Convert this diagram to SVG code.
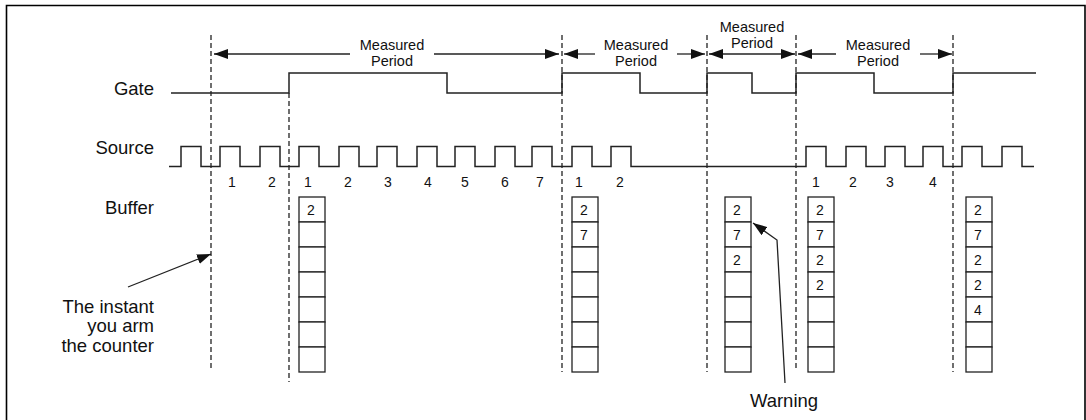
<svg xmlns="http://www.w3.org/2000/svg" width="1086" height="420" viewBox="0 0 1086 420">
<defs>
<style>
.lbl{font-family:"Liberation Sans",Arial,sans-serif;font-size:18.5px;fill:#111}
.mp{font-family:"Liberation Sans",Arial,sans-serif;font-size:14.5px;fill:#111;text-anchor:middle}
.num{font-family:"Liberation Sans",Arial,sans-serif;font-size:14px;fill:#111;text-anchor:middle}
.sig{fill:none;stroke:#222;stroke-width:1.5}
.dash{fill:none;stroke:#222;stroke-width:1.3;stroke-dasharray:5,3}
.arr{fill:none;stroke:#222;stroke-width:1.3}
.cell{fill:#fff;stroke:#222;stroke-width:1.3}
</style>
<marker id="ah" viewBox="0 0 14 10" refX="14" refY="5" markerWidth="14" markerHeight="10" markerUnits="userSpaceOnUse" orient="auto-start-reverse">
<path d="M0,0 L14,5 L0,10 z" fill="#111"/>
</marker>
</defs>
<rect width="1086" height="420" fill="#fff"/>
<path d="M6.5,420 V5.5 H1085 V420" fill="none" stroke="#000" stroke-width="1.6"/>

<g id="labels">
<text class="lbl" x="154" y="95" text-anchor="end">Gate</text>
<text class="lbl" x="154" y="154" text-anchor="end">Source</text>
<text class="lbl" x="154" y="214" text-anchor="end">Buffer</text>
<text class="lbl" x="154" y="313" text-anchor="end">The instant</text>
<text class="lbl" x="154" y="332" text-anchor="end">you arm</text>
<text class="lbl" x="154" y="352" text-anchor="end">the counter</text>
<text class="lbl" x="784" y="407" text-anchor="middle">Warning</text>
</g>

<g id="dashed-lines">
<line class="dash" x1="211" y1="35" x2="211" y2="370"/>
<line class="dash" x1="289" y1="93" x2="289" y2="382"/>
<line class="dash" x1="562" y1="35" x2="562" y2="372"/>
<line class="dash" x1="707" y1="35" x2="707" y2="372"/>
<line class="dash" x1="796" y1="35" x2="796" y2="370"/>
<line class="dash" x1="953" y1="35" x2="953" y2="372"/>
</g>

<g id="gate">
<path class="sig" d="M171,93 H289 V73 H447 V93 H562 V73 H640 V93 H707 V73 H752 V93 H796 V73 H874 V93 H953 V73 H1036"/>
</g>

<g id="source">
<path class="sig" d="M169,166.5 H181 V146.5 H201 V166.5 H220 V146.5 H240 V166.5 H260 V146.5 H280 V166.5 H299 V146.5 H319 V166.5 H339 V146.5 H359 V166.5 H377 V146.5 H397 V166.5 H417 V146.5 H437 V166.5 H455 V146.5 H475 V166.5 H495 V146.5 H515 V166.5 H532 V146.5 H552 V166.5 H572 V146.5 H592 V166.5 H611 V146.5 H631 V166.5 H806 V146.5 H826 V166.5 H846 V146.5 H866 V166.5 H885 V146.5 H905 V166.5 H923 V146.5 H943 V166.5 H962 V146.5 H982 V166.5 H1002 V146.5 H1022 V166.5 H1034"/>
</g>

<g id="source-counts">
<text class="num" x="232" y="187">1</text>
<text class="num" x="272" y="187">2</text>
<text class="num" x="308" y="187">1</text>
<text class="num" x="348" y="187">2</text>
<text class="num" x="388" y="187">3</text>
<text class="num" x="428" y="187">4</text>
<text class="num" x="465" y="187">5</text>
<text class="num" x="505" y="187">6</text>
<text class="num" x="540" y="187">7</text>
<text class="num" x="579" y="187">1</text>
<text class="num" x="620" y="187">2</text>
<text class="num" x="816" y="187">1</text>
<text class="num" x="853" y="187">2</text>
<text class="num" x="890" y="187">3</text>
<text class="num" x="933" y="187">4</text>
</g>

<g id="period-1">
<text class="mp" x="392" y="50">Measured</text>
<text class="mp" x="392" y="66">Period</text>
</g>
<g id="period-2">
<text class="mp" x="636" y="50">Measured</text>
<text class="mp" x="636" y="66">Period</text>
</g>
<g id="period-3">
<text class="mp" x="752" y="32">Measured</text>
<text class="mp" x="752" y="48">Period</text>
</g>
<g id="period-4">
<text class="mp" x="878" y="50">Measured</text>
<text class="mp" x="878" y="66">Period</text>
</g>

<g id="buffer-1">
<rect class="cell" x="299" y="197" width="26" height="25"/>
<rect class="cell" x="299" y="222" width="26" height="25"/>
<rect class="cell" x="299" y="247" width="26" height="25"/>
<rect class="cell" x="299" y="272" width="26" height="25"/>
<rect class="cell" x="299" y="297" width="26" height="25"/>
<rect class="cell" x="299" y="322" width="26" height="25"/>
<rect class="cell" x="299" y="347" width="26" height="25"/>
<text class="num" x="311" y="215">2</text>
</g>
<g id="buffer-2">
<rect class="cell" x="572" y="197" width="26" height="25"/>
<rect class="cell" x="572" y="222" width="26" height="25"/>
<rect class="cell" x="572" y="247" width="26" height="25"/>
<rect class="cell" x="572" y="272" width="26" height="25"/>
<rect class="cell" x="572" y="297" width="26" height="25"/>
<rect class="cell" x="572" y="322" width="26" height="25"/>
<rect class="cell" x="572" y="347" width="26" height="25"/>
<text class="num" x="584" y="215">2</text>
<text class="num" x="584" y="240">7</text>
</g>
<g id="buffer-3">
<rect class="cell" x="725" y="197" width="26" height="25"/>
<rect class="cell" x="725" y="222" width="26" height="25"/>
<rect class="cell" x="725" y="247" width="26" height="25"/>
<rect class="cell" x="725" y="272" width="26" height="25"/>
<rect class="cell" x="725" y="297" width="26" height="25"/>
<rect class="cell" x="725" y="322" width="26" height="25"/>
<rect class="cell" x="725" y="347" width="26" height="25"/>
<text class="num" x="737" y="215">2</text>
<text class="num" x="737" y="240">7</text>
<text class="num" x="737" y="265">2</text>
</g>
<g id="buffer-4">
<rect class="cell" x="808" y="197" width="26" height="25"/>
<rect class="cell" x="808" y="222" width="26" height="25"/>
<rect class="cell" x="808" y="247" width="26" height="25"/>
<rect class="cell" x="808" y="272" width="26" height="25"/>
<rect class="cell" x="808" y="297" width="26" height="25"/>
<rect class="cell" x="808" y="322" width="26" height="25"/>
<rect class="cell" x="808" y="347" width="26" height="25"/>
<text class="num" x="820" y="215">2</text>
<text class="num" x="820" y="240">7</text>
<text class="num" x="820" y="265">2</text>
<text class="num" x="820" y="290">2</text>
</g>
<g id="buffer-5">
<rect class="cell" x="966" y="197" width="26" height="25"/>
<rect class="cell" x="966" y="222" width="26" height="25"/>
<rect class="cell" x="966" y="247" width="26" height="25"/>
<rect class="cell" x="966" y="272" width="26" height="25"/>
<rect class="cell" x="966" y="297" width="26" height="25"/>
<rect class="cell" x="966" y="322" width="26" height="25"/>
<rect class="cell" x="966" y="347" width="26" height="25"/>
<text class="num" x="978" y="215">2</text>
<text class="num" x="978" y="240">7</text>
<text class="num" x="978" y="265">2</text>
<text class="num" x="978" y="290">2</text>
<text class="num" x="978" y="315">4</text>
</g>

<g id="connectors">
<line class="arr" x1="214" y1="54" x2="350" y2="54" marker-start="url(#ah)"/>
<line class="arr" x1="434" y1="54" x2="559" y2="54" marker-end="url(#ah)"/>
<line class="arr" x1="564" y1="54" x2="595" y2="54" marker-start="url(#ah)"/>
<line class="arr" x1="677" y1="54" x2="705" y2="54" marker-end="url(#ah)"/>
<line class="arr" x1="709" y1="54" x2="795" y2="54" marker-start="url(#ah)" marker-end="url(#ah)"/>
<line class="arr" x1="798" y1="54" x2="836" y2="54" marker-start="url(#ah)"/>
<line class="arr" x1="920" y1="54" x2="952" y2="54" marker-end="url(#ah)"/>
<line class="arr" x1="128" y1="287" x2="211" y2="254" marker-end="url(#ah)"/>
<polyline class="arr" points="785,383 777,240 753,223" marker-end="url(#ah)"/>
</g>
</svg>
